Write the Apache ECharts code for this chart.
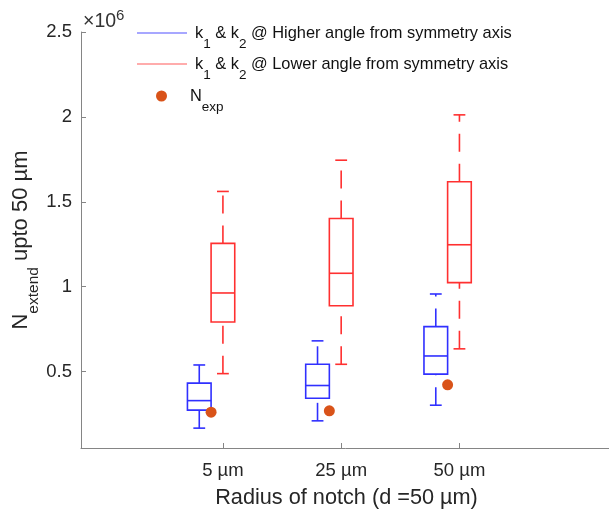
<!DOCTYPE html>
<html>
<head>
<meta charset="utf-8">
<script src="https://cdn.jsdelivr.net/npm/echarts@6/dist/echarts.min.js"></script>
<style>
  html, body { margin: 0; padding: 0; background: #fff; }
  #chart { width: 609px; height: 513px; }
</style>
</head>
<body>
<div id="chart"></div>
<script>
// ---- data ----
const categories = ['5 µm', '25 µm', '50 µm'];
const positions = [1, 2, 3];
// [min, q1, median, q3, max]
const higherAngle = [
  [167000, 273000, 329000, 432000, 539000],
  [210000, 343000, 418000, 543000, 681000],
  [302000, 485000, 592000, 765000, 957000]
];
const lowerAngle = [
  [488000, 792000, 963000, 1255000, 1561000],
  [543000, 888000, 1079000, 1402000, 1745000],
  [634000, 1024000, 1247000, 1618000, 2012000]
];
const nExp = [261000, 269000, 422000];
const yTicks = [500000, 1000000, 1500000, 2000000, 2500000];

// ---- layout / style ----
const FONT = "'Liberation Sans', Arial, Helvetica, sans-serif";
const BLUE = '#3030ff';
const RED = '#ff3030';
const BOX_W = 0.2;
const GROUP_OFFSET = 0.2;

function boxData(stats, offset) {
  return stats.map((s, i) => [positions[i] + offset].concat(s));
}

function renderBox(params, api) {
  const x = api.value(0);
  const lo = api.coord([x, api.value(1)]);
  const q1 = api.coord([x, api.value(2)]);
  const med = api.coord([x, api.value(3)]);
  const q3 = api.coord([x, api.value(4)]);
  const hi = api.coord([x, api.value(5)]);
  const half = api.size([BOX_W, 0])[0] / 2;
  const capHalf = half / 2;
  const color = api.visual('color');
  const solid = { stroke: color, lineWidth: 1.6, fill: null };
  const dashed = { stroke: color, lineWidth: 1.6, lineDash: [18, 12], fill: null };
  return {
    type: 'group',
    children: [
      { type: 'line', shape: { x1: q3[0], y1: q3[1], x2: hi[0], y2: hi[1] }, style: dashed },
      { type: 'line', shape: { x1: lo[0], y1: lo[1], x2: q1[0], y2: q1[1] }, style: dashed },
      { type: 'line', shape: { x1: hi[0] - capHalf, y1: hi[1], x2: hi[0] + capHalf, y2: hi[1] }, style: solid },
      { type: 'line', shape: { x1: lo[0] - capHalf, y1: lo[1], x2: lo[0] + capHalf, y2: lo[1] }, style: solid },
      { type: 'rect', shape: { x: q3[0] - half, y: q3[1], width: 2 * half, height: q1[1] - q3[1] }, style: solid },
      { type: 'line', shape: { x1: med[0] - half, y1: med[1], x2: med[0] + half, y2: med[1] }, style: solid }
    ]
  };
}

const legendRich = {
  sub: { fontSize: 13.5, lineHeight: 14, padding: [22, 0, 0, 0], fontFamily: FONT, color: '#111' }
};
function legendCfg(name, icon, left, top, itemWidth, itemHeight, textPad, text, iconColor) {
  return {
    data: [{ name: name, icon: icon, itemStyle: { color: iconColor } }],
    left: left, top: top,
    itemWidth: itemWidth, itemHeight: itemHeight,
    selectedMode: false,
    formatter: () => text,
    textStyle: {
      fontSize: 16.4, lineHeight: 20, color: '#111', fontFamily: FONT,
      padding: [0, 0, 0, textPad], rich: legendRich
    }
  };
}

const chart = echarts.init(document.getElementById('chart'), null, { renderer: 'canvas' });
chart.setOption({
  animation: false,
  backgroundColor: '#fff',
  textStyle: { fontFamily: FONT },
  title: {
    text: '×10{sup|6}',
    left: 78, top: 6,
    textStyle: {
      fontSize: 19.5, lineHeight: 22, fontWeight: 'normal', color: '#333', fontFamily: FONT,
      rich: { sup: { fontSize: 15, lineHeight: 16, padding: [0, 0, 12, 0], color: '#333', fontFamily: FONT } }
    }
  },
  legend: [
    legendCfg('higher', 'rect', 132, 10, 50, 1, 3, 'k{sub|1} & k{sub|2} @ Higher angle from symmetry axis', '#5050ff'),
    legendCfg('lower', 'rect', 132, 41, 50, 1, 3, 'k{sub|1} & k{sub|2} @ Lower angle from symmetry axis', '#ff5a5a'),
    legendCfg('Nexp', 'circle', 151, 73, 25, 11, 11, 'N{sub|exp}', '#D95319')
  ],
  grid: { left: 81, top: 32, right: -3, bottom: 65, containLabel: false, outerBoundsMode: 'none' },
  xAxis: {
    type: 'value', min: -0.2, max: 4.29,
    name: 'Radius of notch (d =50 µm)',
    nameLocation: 'middle', nameGap: 39, nameMoveOverlap: false,
    nameTextStyle: { fontSize: 21.7, color: '#262626', fontFamily: FONT },
    axisLine: { show: true, onZero: false, lineStyle: { color: '#858585', width: 1 } },
    axisTick: { show: true, inside: true, length: 5, customValues: positions, lineStyle: { color: '#858585' } },
    axisLabel: {
      customValues: positions, margin: 13, fontSize: 18.5, color: '#262626', fontFamily: FONT,
      formatter: v => categories[positions.indexOf(v)]
    },
    splitLine: { show: false }
  },
  yAxis: {
    type: 'value', min: 50000, max: 2500000,
    name: 'N{sub|extend} upto 50 µm',
    nameLocation: 'middle', nameRotate: 90, nameGap: 47, nameMoveOverlap: false,
    nameTextStyle: {
      fontSize: 22, lineHeight: 26, color: '#262626', fontFamily: FONT,
      rich: { sub: { fontSize: 15.5, lineHeight: 16, padding: [26, 0, 0, 0], color: '#262626', fontFamily: FONT } }
    },
    axisLine: { show: true, onZero: false, lineStyle: { color: '#858585', width: 1 } },
    axisTick: { show: true, inside: true, length: 5, customValues: yTicks, lineStyle: { color: '#858585' } },
    axisLabel: {
      customValues: yTicks, margin: 9, fontSize: 18.5, color: '#262626', fontFamily: FONT,
      formatter: v => String(v / 1e6)
    },
    splitLine: { show: false }
  },
  series: [
    {
      name: 'higher', type: 'custom', renderItem: renderBox,
      itemStyle: { color: BLUE },
      encode: { x: 0, y: [1, 2, 3, 4, 5] },
      data: boxData(higherAngle, -GROUP_OFFSET), z: 2
    },
    {
      name: 'lower', type: 'custom', renderItem: renderBox,
      itemStyle: { color: RED },
      encode: { x: 0, y: [1, 2, 3, 4, 5] },
      data: boxData(lowerAngle, 0), z: 2
    },
    {
      name: 'Nexp', type: 'scatter', symbol: 'circle', symbolSize: 11,
      itemStyle: { color: '#D95319', opacity: 1 },
      data: nExp.map((v, i) => [positions[i] - GROUP_OFFSET / 2, v]), z: 5
    }
  ]
});
</script>
</body>
</html>
